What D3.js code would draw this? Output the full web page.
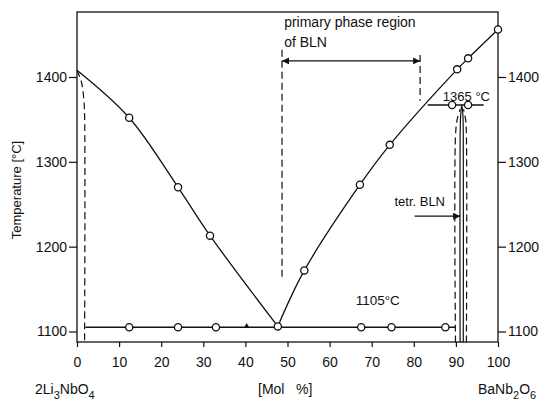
<!DOCTYPE html>
<html lang="en">
<head>
<meta charset="utf-8">
<title>2Li3NbO4 - BaNb2O6</title>
<script src="https://d3js.org/d3.v7.js"></script>
<style>
  body { margin: 0; background: #fff; }
  text { font-family: "Liberation Sans", Arial, sans-serif; fill: #111; }
</style>
</head>
<body>
<script>
const w = 541, h = 409;

// axis ticks
const xTicks = [0, 10, 20, 30, 40, 50, 60, 70, 80, 90, 100];
const yTicks = [1100, 1200, 1300, 1400];

// liquidus branches [mol %, °C]
const liquidusLeft = [[0, 1408], [12.4, 1352], [24, 1270], [31.6, 1213], [47.7, 1106]];
const liquidusRight = [[47.7, 1106], [54, 1172], [67.2, 1273], [74.3, 1320], [90.3, 1409], [92.9, 1422], [100, 1456]];

// eutectic line 1105 °C
const eutecticT = 1105;
const eutecticFrom = 2.0, eutecticTo = 89.9;
const eutecticPoints = [12.4, 24, 33, 67.5, 74.7, 87.5];
const eutecticArrowAt = 40.3;

// peritectic line 1365 °C
const periT = 1367;
const periFrom = 83.3, periTo = 96.6;
const periPoints = [89.1, 92.9];

// solid phase boundaries (tetragonal BLN)
const tetrSolid = [[91.0, 1087], [91.0, 1330], [91.15, 1356], [91.4, 1367], [91.65, 1356], [91.75, 1330], [91.75, 1087]];
const tetrDashLeft = [[89.9, 1087], [89.9, 1330], [90.3, 1350], [91.0, 1362]];
const tetrDashRight = [[92.5, 1087], [92.5, 1330], [92.3, 1350], [91.8, 1362]];
const leftDash = [[0, 1408], [1.0, 1395], [1.6, 1375], [1.8, 1355], [1.8, 1087]];

// primary phase region of BLN
const primFrom = 48.7, primTo = 81.5, primT = 1419;
const primDashLeft = [[48.7, 1432], [48.7, 1163]];
const primDashRight = [[81.5, 1426], [81.5, 1372]];

// tetr. BLN arrow
const tetrArrow = [[80.2, 1236], [91.0, 1236]];

const x = d3.scaleLinear().domain([0, 100]).range([77, 498]);
const y = d3.scaleLinear().domain([1100, 1400]).range([331.5, 77]);
const yBottom = y.invert(342), yTop = y.invert(12);

const svg = d3.select("body").append("svg")
  .attr("width", w).attr("height", h);

const defs = svg.append("defs");
defs.append("marker").attr("id", "arr")
  .attr("viewBox", "0 0 10 10").attr("refX", 10).attr("refY", 5)
  .attr("markerWidth", 9).attr("markerHeight", 7).attr("markerUnits", "userSpaceOnUse")
  .attr("orient", "auto-start-reverse")
  .append("path").attr("d", "M0,0L10,5L0,10Z").attr("fill", "#111");

const ink = "#111";
const line = d3.line().x(d => x(d[0])).y(d => y(d[1]));
const curve = d3.line().x(d => x(d[0])).y(d => y(d[1])).curve(d3.curveCatmullRom.alpha(0.5));

// frame
svg.append("rect")
  .attr("x", x(0)).attr("y", y(yTop))
  .attr("width", x(100) - x(0)).attr("height", y(yBottom) - y(yTop))
  .attr("fill", "none").attr("stroke", ink).attr("stroke-width", 1.3);

// axes
const xAxis = d3.axisBottom(x).tickValues(xTicks).tickSize(5).tickPadding(10).tickFormat(d3.format("d"));
svg.append("g").attr("transform", `translate(0,${y(yBottom)})`).call(xAxis)
  .call(g => g.select(".domain").remove())
  .call(g => g.selectAll("text").attr("font-size", 14).attr("font-family", "Liberation Sans, Arial, sans-serif"));

const yLeft = d3.axisLeft(y).tickValues(yTicks).tickSize(8).tickPadding(2).tickFormat(d3.format("d"));
svg.append("g").attr("transform", `translate(${x(0)},0)`).call(yLeft)
  .call(g => g.select(".domain").remove())
  .call(g => g.selectAll("text").attr("font-size", 14).attr("font-family", "Liberation Sans, Arial, sans-serif"));

const yRight = d3.axisRight(y).tickValues(yTicks).tickSize(8).tickPadding(2).tickFormat(d3.format("d"));
svg.append("g").attr("transform", `translate(${x(100)},0)`).call(yRight)
  .call(g => g.select(".domain").remove())
  .call(g => g.selectAll("text").attr("font-size", 14).attr("font-family", "Liberation Sans, Arial, sans-serif"));

svg.selectAll(".tick line").attr("stroke", ink).attr("stroke-width", 1.2);
svg.selectAll(".tick text").attr("fill", ink);

// liquidus
[liquidusLeft, liquidusRight].forEach(pts => {
  svg.append("path").attr("d", curve(pts))
    .attr("fill", "none").attr("stroke", ink).attr("stroke-width", 1.3);
});

// eutectic line
svg.append("path").attr("d", line([[eutecticFrom, eutecticT], [eutecticTo, eutecticT]]))
  .attr("stroke", ink).attr("stroke-width", 1.3);
svg.append("path")
  .attr("d", d3.symbol(d3.symbolTriangle, 14)())
  .attr("transform", `translate(${x(eutecticArrowAt)},${y(eutecticT) - 1})`)
  .attr("fill", ink);

// peritectic line
svg.append("path").attr("d", line([[periFrom, periT], [periTo, periT]]))
  .attr("stroke", ink).attr("stroke-width", 1.3);

// tetr. BLN boundaries
svg.append("path").attr("d", curve(tetrSolid))
  .attr("fill", "none").attr("stroke", ink).attr("stroke-width", 1.2);
[tetrDashLeft, tetrDashRight, leftDash].forEach(pts => {
  svg.append("path").attr("d", curve(pts))
    .attr("fill", "none").attr("stroke", ink).attr("stroke-width", 1.2)
    .attr("stroke-dasharray", "7,4");
});

// primary phase region
[primDashLeft, primDashRight].forEach(pts => {
  svg.append("path").attr("d", line(pts))
    .attr("stroke", ink).attr("stroke-width", 1.2).attr("stroke-dasharray", "7,4");
});
svg.append("path").attr("d", line([[primFrom, primT], [primTo, primT]]))
  .attr("stroke", ink).attr("stroke-width", 1.3)
  .attr("marker-start", "url(#arr)").attr("marker-end", "url(#arr)");

svg.append("path").attr("d", line(tetrArrow))
  .attr("stroke", ink).attr("stroke-width", 1.3).attr("marker-end", "url(#arr)");

// measured points
const circles = []
  .concat(liquidusLeft.slice(1))
  .concat(liquidusRight.slice(1))
  .concat(eutecticPoints.map(d => [d, eutecticT]))
  .concat(periPoints.map(d => [d, periT]));
svg.selectAll("circle.pt").data(circles).enter().append("circle")
  .attr("class", "pt")
  .attr("cx", d => x(d[0])).attr("cy", d => y(d[1]))
  .attr("r", 3.6).attr("fill", "#fff").attr("stroke", ink).attr("stroke-width", 1.3);

// annotations
const t = (s, px, py, size) => svg.append("text").attr("x", px).attr("y", py).attr("font-size", size || 13).text(s);
t("primary phase region", x(49.2), 27, 14);
t("of BLN", x(49.2), 47, 14);
t("1365 °C", x(86.9), y(periT) - 4);
t("tetr. BLN", x(75.4), y(1236) - 10);
t("1105°C", x(66.2), y(eutecticT) - 22, 13.5);

svg.append("text")
  .attr("transform", "translate(21,190) rotate(-90)")
  .attr("text-anchor", "middle").attr("font-size", 13)
  .text("Temperature [°C]");

// composition labels
const left = svg.append("text").attr("x", 35).attr("y", 394).attr("font-size", 14);
left.append("tspan").text("2Li");
left.append("tspan").attr("dy", 5).attr("font-size", 11).text("3");
left.append("tspan").attr("dy", -5).text("NbO");
left.append("tspan").attr("dy", 5).attr("font-size", 11).text("4");

svg.append("text").attr("x", 258).attr("y", 394).attr("font-size", 14).attr("xml:space", "preserve").text("[Mol   %]");

const right = svg.append("text").attr("x", 478).attr("y", 394).attr("font-size", 14);
right.append("tspan").text("BaNb");
right.append("tspan").attr("dy", 5).attr("font-size", 11).text("2");
right.append("tspan").attr("dy", -5).text("O");
right.append("tspan").attr("dy", 5).attr("font-size", 11).text("6");
</script>
</body>
</html>
